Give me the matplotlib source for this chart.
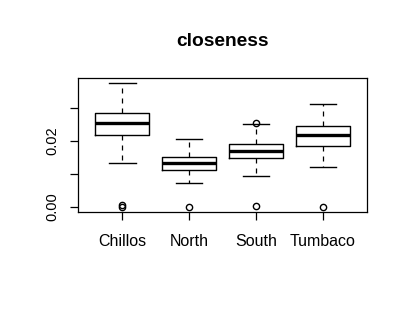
import matplotlib
matplotlib.use("Agg")
import matplotlib.pyplot as plt

# values
groups = ["Chillos", "North", "South", "Tumbaco"]
whislo = [0.0132, 0.0071, 0.0093, 0.0120]
q1 = [0.0218, 0.0112, 0.0148, 0.0186]
med = [0.0255, 0.0132, 0.0170, 0.0218]
q3 = [0.0285, 0.0151, 0.0190, 0.0245]
whishi = [0.0376, 0.0208, 0.0252, 0.0313]
fliers = [[0.0, 0.0005], [0.0], [0.0002, 0.0254], [0.0]]

yticks = [0.00, 0.01, 0.02, 0.03]
ytick_labels = ["0.00", "", "0.02", ""]

plt.rcParams["font.family"] = ["Liberation Sans", "DejaVu Sans"]

fig = plt.figure(figsize=(4.08, 3.10), dpi=100)
ax = fig.add_axes([0.191, 0.316, 0.709, 0.432])

stats = []
for g, lo, a, m, b, hi, fl in zip(groups, whislo, q1, med, q3, whishi, fliers):
    stats.append(dict(label=g, whislo=lo, q1=a, med=m, q3=b, whishi=hi, fliers=fl))

ax.bxp(stats, positions=range(1, 5), widths=0.8, capwidths=0.4,
       boxprops=dict(color="black", lw=1.0),
       medianprops=dict(color="black", lw=2.4, solid_capstyle="butt"),
       whiskerprops=dict(color="black", lw=0.9, linestyle=(0, (4, 4))),
       capprops=dict(color="black", lw=1.0),
       flierprops=dict(marker="o", markerfacecolor="none", markeredgecolor="black",
                       markersize=4.5, markeredgewidth=1.0))

ax.set_xlim(0.34, 4.66)
ax.set_ylim(-0.0016, 0.0392)
ax.set_yticks(yticks)
ax.set_yticklabels(ytick_labels, rotation=90, va="center")
ax.set_xticks(range(1, 5))
ax.set_xticklabels(groups)
ax.tick_params(axis="both", direction="out", length=5.5, width=0.9, labelsize=11.5)
ax.tick_params(axis="x", pad=10.5)
ax.tick_params(axis="y", pad=8, labelsize=10.5)
for s in ax.spines.values():
    s.set_linewidth(0.9)
ax.set_title("closeness", fontsize=13.8, fontweight="bold", pad=23)

fig.savefig("out.png", dpi=100, facecolor="white")
